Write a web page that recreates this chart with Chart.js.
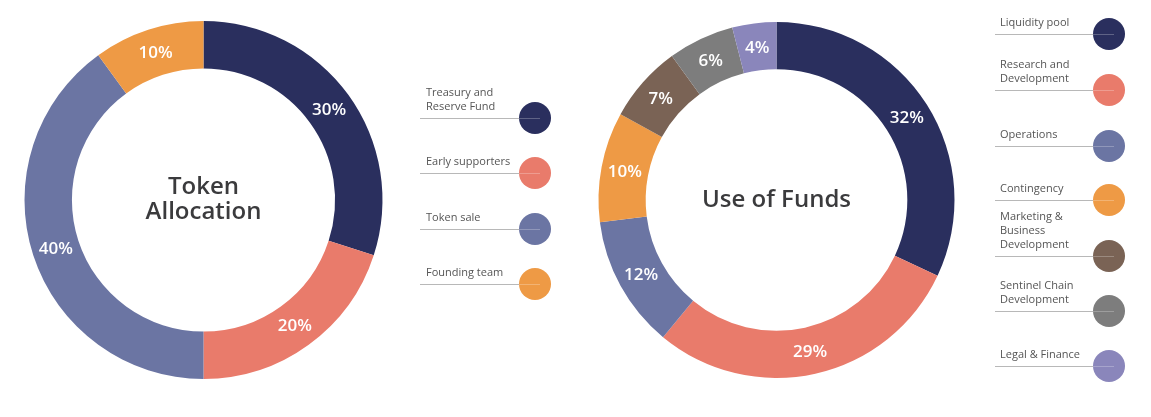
<!DOCTYPE html>
<html>
<head>
<meta charset="utf-8">
<script src="https://cdn.jsdelivr.net/npm/chart.js@4"></script>
<style>
  html, body { margin: 0; padding: 0; background: #fff; }
  #wrap { position: relative; width: 1151px; height: 417px; overflow: hidden; }
  #c1 { position: absolute; left: 0; top: 0; }
  #c2 { position: absolute; left: 580px; top: 0; }
</style>
</head>
<body>
<div id="wrap">
  <canvas id="c1" width="580" height="417"></canvas>
  <canvas id="c2" width="571" height="417"></canvas>
</div>
<script>
// ---- Data ----
const allocTitle = ["Token", "Allocation"];
const allocLabels = ["Treasury and\nReserve Fund", "Early supporters", "Token sale", "Founding team"];
const allocValues = [30, 20, 40, 10];
const allocColors = ["#2a2f5e", "#e97b6b", "#6b75a3", "#ee9a45"];

const fundsTitle = ["Use of Funds"];
const fundsLabels = ["Liquidity pool", "Research and\nDevelopment", "Operations", "Contingency",
  "Marketing &\nBusiness\nDevelopment", "Sentinel Chain\nDevelopment", "Legal & Finance"];
const fundsValues = [32, 29, 12, 10, 7, 6, 4];
const fundsColors = ["#2a2f5e", "#e97b6b", "#6b75a3", "#ee9a45", "#7a6355", "#7d7d7d", "#8a86bb"];

const FONT = "'Open Sans', 'Noto Sans', sans-serif";

// Plugin: percent labels, center title, custom legend
const decorPlugin = {
  id: 'decor',
  afterDatasetsDraw(chart, args, opts) {
    const ctx = chart.ctx;
    const meta = chart.getDatasetMeta(0);
    const ds = chart.data.datasets[0];
    ctx.save();
    // percent labels
    ctx.fillStyle = '#ffffff';
    ctx.font = '600 17px ' + FONT;
    ctx.textAlign = 'center';
    ctx.textBaseline = 'middle';
    meta.data.forEach((arc, i) => {
      const p = arc.tooltipPosition();
      ctx.fillText(ds.data[i] + '%', p.x, p.y + 1);
    });
    // center title
    const c = meta.data[0];
    const cx = c.x, cy = c.y;
    ctx.fillStyle = '#3b3b3d';
    ctx.font = '600 24px ' + FONT;
    const lines = opts.title;
    const lh = 25;
    const y0 = cy - (lines.length - 1) * lh / 2;
    lines.forEach((t, k) => ctx.fillText(t, cx, y0 + k * lh));
    // legend
    const lg = opts.legend;
    chart.data.labels.forEach((lab, i) => {
      const ly = lg.ys[i];
      const parts = lab.split('\n');
      ctx.fillStyle = '#555555';
      ctx.font = '11px ' + FONT;
      ctx.textAlign = 'left';
      ctx.textBaseline = 'middle';
      parts.forEach((t, k) => {
        ctx.fillText(t, lg.textX, ly - 11 - (parts.length - 1 - k) * 14);
      });
      ctx.strokeStyle = '#b8b8b8';
      ctx.lineWidth = 1;
      ctx.beginPath();
      ctx.moveTo(lg.lineX, ly + 0.5);
      ctx.lineTo(lg.circleX, ly + 0.5);
      ctx.stroke();
      ctx.fillStyle = ds.backgroundColor[i];
      ctx.beginPath();
      ctx.arc(lg.circleX, ly, 16, 0, Math.PI * 2);
      ctx.fill();
      ctx.strokeStyle = 'rgba(255,255,255,0.25)';
      ctx.beginPath();
      ctx.moveTo(lg.circleX - 16, ly + 0.5);
      ctx.lineTo(lg.circleX + 5, ly + 0.5);
      ctx.stroke();
    });
    ctx.restore();
  }
};

function makeChart(id, labels, values, colors, padding, title, legend) {
  return new Chart(document.getElementById(id), {
    type: 'doughnut',
    data: {
      labels: labels,
      datasets: [{ data: values, backgroundColor: colors, borderWidth: 0, hoverOffset: 0 }]
    },
    options: {
      responsive: false,
      animation: false,
      cutout: '73.5%',
      layout: { padding: padding },
      events: [],
      plugins: {
        legend: { display: false },
        tooltip: { enabled: false },
        decor: { title: title, legend: legend }
      }
    },
    plugins: [decorPlugin]
  });
}

makeChart('c1', allocLabels, allocValues, allocColors,
  { left: 24, top: 21, right: 197, bottom: 38 }, allocTitle,
  { textX: 426, lineX: 420, circleX: 535, ys: [118, 173, 229, 284] });

makeChart('c2', fundsLabels, fundsValues, fundsColors,
  { left: 18.5, top: 22, right: 196.5, bottom: 39 }, fundsTitle,
  { textX: 420, lineX: 415, circleX: 529, ys: [34, 90, 146, 200, 256, 311, 366] });
</script>
</body>
</html>
